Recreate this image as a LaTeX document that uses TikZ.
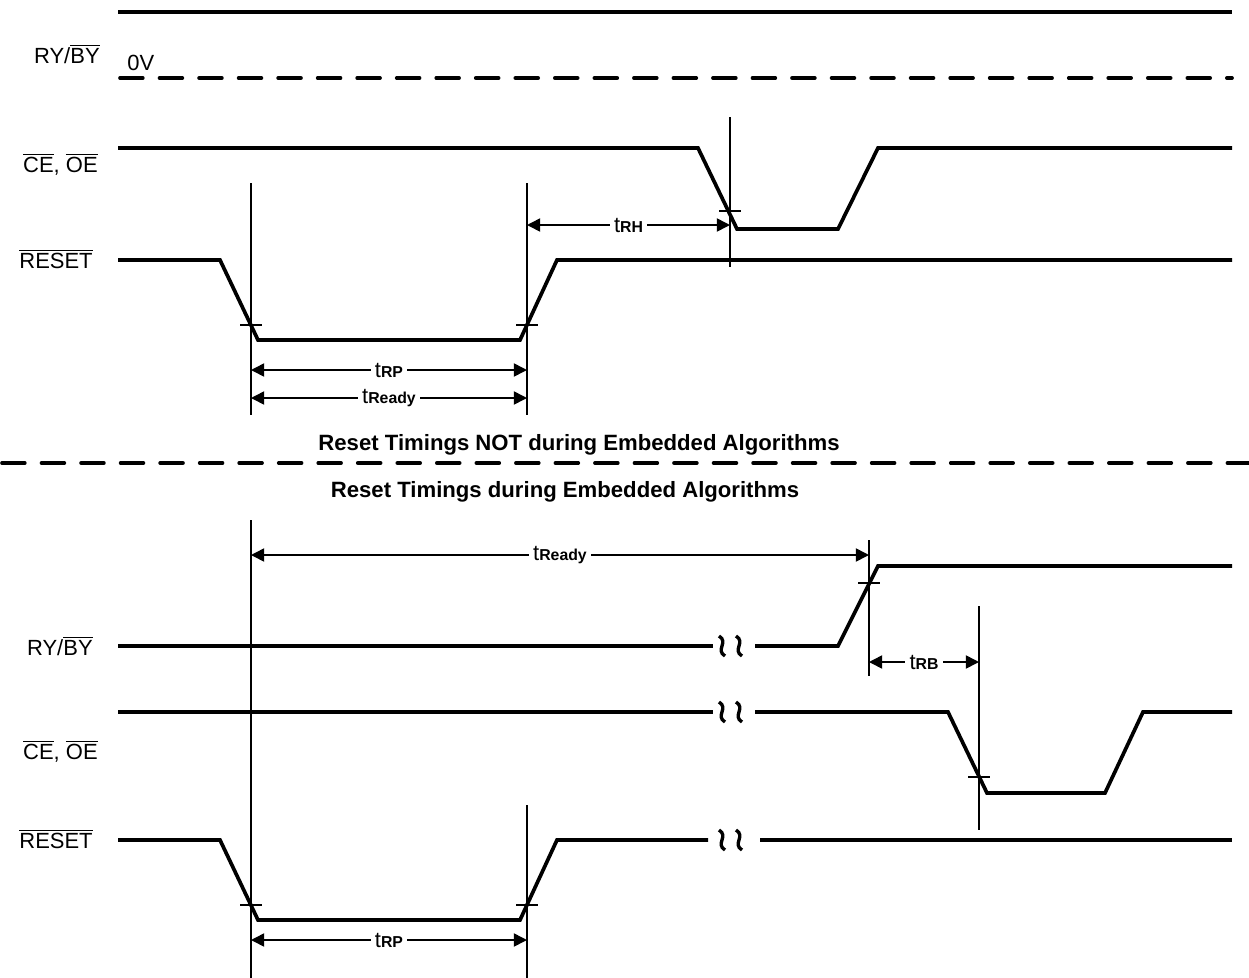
\documentclass[tikz,border=0pt]{standalone}
\usepackage{fontspec}
\setmainfont{Liberation Sans}
\usetikzlibrary{arrows.meta}
\newcommand\tsub[1]{t{\fontsize{9}{10}\selectfont\bfseries #1}}
\newcommand\negsig[1]{$\overline{\mbox{#1}}$}

\begin{document}
\begin{tikzpicture}[x=0.02cm, y=-0.02cm,
    sig/.style={line width=2.1pt, line join=miter},
    guide/.style={line width=0.9pt},
    dim/.style={{Triangle[length=7.5pt,width=7.5pt]}-{Triangle[length=7.5pt,width=7.5pt]}, line width=0.9pt},
    tlabel/.style={fill=white, inner sep=2.5pt, font=\fontsize{12.5}{14}\selectfont},
    sname/.style={anchor=base east, inner sep=0pt, font=\fontsize{12.5}{15}\selectfont},
    heading/.style={font=\fontsize{12.6}{15}\selectfont\bfseries},
    dashline/.style={line width=2.1pt, line cap=round, dash pattern=on 13pt off 9.5pt},
    brk/.style={line width=1.9pt}]
\useasboundingbox (0,0) rectangle (1249,978);

% upper diagram
\node[sname] (ryby1) at (100,63) {RY/\negsig{BY}};
\node[sname] (ceoe1) at (98,172) {\negsig{CE}, \negsig{OE}};
\node[sname] (reset1) at (93,268) {\negsig{RESET}};
\node[anchor=base west, inner sep=0pt, font=\fontsize{12.5}{15}\selectfont] (zerov) at (127,70) {0V};
\draw[sig] (118,12) -- (1232,12);
\draw[dashline] (120,78) -- (1232,78);
\draw[sig] (118,148) -- (698,148) -- (737,229) -- (838,229) -- (878,148) -- (1232,148);
\draw[sig] (118,260) -- (220,260) -- (258,340) -- (520,340) -- (557,260) -- (1232,260);
\draw[guide] (251,183) -- (251,415);
\draw[guide] (527,183) -- (527,415);
\draw[guide] (730,117) -- (730,267);
\foreach \x/\y in {251/325, 527/325, 730/211}
  \draw[guide] ({\x-11},\y) -- ({\x+11},\y);
\coordinate (rh1) at (527,225);
\coordinate (rh2) at (730,225);
\coordinate (rp1) at (251,370);
\coordinate (rp2) at (527,370);
\coordinate (rdy1) at (251,398);
\coordinate (rdy2) at (527,398);
\draw[dim] (rh1) -- node[tlabel] {\tsub{RH}} (rh2);
\draw[dim] (rp1) -- node[tlabel] {\tsub{RP}} (rp2);
\draw[dim] (rdy1) -- node[tlabel] {\tsub{Ready}} (rdy2);

% separator
\node[heading] (head1) at (579,445) {Reset Timings NOT during Embedded Algorithms};
\draw[dashline] (2,463) -- (1249,463);
\node[heading] (head2) at (565,492) {Reset Timings during Embedded Algorithms};

% lower diagram
\node[sname] (ryby2) at (93,655) {RY/\negsig{BY}};
\node[sname] (ceoe2) at (98,759) {\negsig{CE}, \negsig{OE}};
\node[sname] (reset2) at (93,848) {\negsig{RESET}};
\draw[sig] (118,646) -- (713,646);
\draw[sig] (755,646) -- (838,646) -- (878,566) -- (1232,566);
\draw[sig] (118,712) -- (713,712);
\draw[sig] (755,712) -- (948,712) -- (987,793) -- (1105,793) -- (1143,712) -- (1232,712);
\draw[sig] (118,840) -- (220,840) -- (258,920) -- (520,920) -- (557,840) -- (708,840);
\draw[sig] (760,840) -- (1232,840);
\foreach \y in {646, 712, 840}
  \foreach \x in {722, 739}
    \draw[brk] ({\x-3},{\y-10}) .. controls ({\x+7},{\y-4}) and ({\x-7},{\y+4}) .. ({\x+3},{\y+10});
\draw[guide] (251,520) -- (251,978);
\draw[guide] (527,805) -- (527,978);
\draw[guide] (869,540) -- (869,676);
\draw[guide] (979,606) -- (979,830);
\foreach \x/\y in {251/905, 527/905, 869/583, 979/777}
  \draw[guide] ({\x-11},\y) -- ({\x+11},\y);
\coordinate (rdy3) at (251,555);
\coordinate (rdy4) at (869,555);
\coordinate (rb1) at (869,662);
\coordinate (rb2) at (979,662);
\coordinate (rp3) at (251,940);
\coordinate (rp4) at (527,940);
\draw[dim] (rdy3) -- node[tlabel] {\tsub{Ready}} (rdy4);
\draw[dim] (rb1) -- node[tlabel] {\tsub{RB}} (rb2);
\draw[dim] (rp3) -- node[tlabel] {\tsub{RP}} (rp4);
\end{tikzpicture}
\end{document}
